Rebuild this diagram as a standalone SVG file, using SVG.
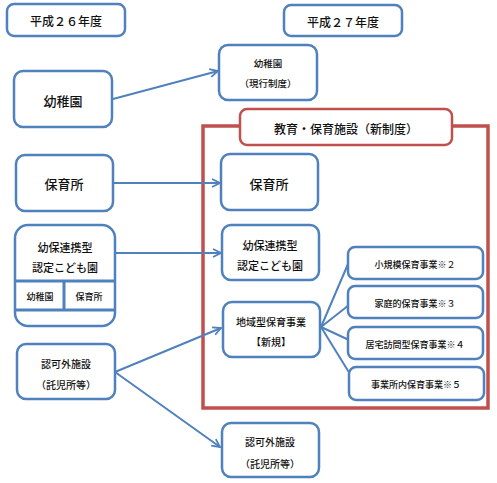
<svg xmlns="http://www.w3.org/2000/svg" width="497" height="483" viewBox="0 0 497 483">
<style>
.b{fill:#fff;stroke:#4F81BD;stroke-width:2.5}
.r{fill:none;stroke:#C0504D;stroke-width:3.5}
.rh{fill:#fff;stroke:#C0504D;stroke-width:2.5}
.c{fill:none;stroke:#4F81BD;stroke-width:2}
text{font-family:"Noto Sans CJK JP","Noto Sans",sans-serif;font-weight:500;fill:#111;text-anchor:middle;dominant-baseline:central}
.t12{font-size:12px}
.t13{font-size:13px}
.t11{font-size:11px}
.t10{font-size:10px}
.t9{font-size:9px}
.t95{font-size:9.5px}
</style>
<defs>
<marker id="a" viewBox="0 0 10 10" refX="9" refY="5" markerWidth="10" markerHeight="10" markerUnits="userSpaceOnUse" orient="auto">
<path d="M1,1 L9,5 L1,9" fill="none" stroke="#4F81BD" stroke-width="1.8"/>
</marker>
</defs>
<rect width="497" height="483" fill="#fff"/>
<rect x="203" y="126" width="285" height="282" class="r"/>
<g id="connectors">
<line x1="113" y1="99" x2="218" y2="71" class="c" marker-end="url(#a)"/>
<line x1="113" y1="183" x2="220" y2="183" class="c" marker-end="url(#a)"/>
<line x1="115" y1="253" x2="221" y2="253" class="c" marker-end="url(#a)"/>
<line x1="115" y1="372" x2="221" y2="328" class="c" marker-end="url(#a)"/>
<line x1="115" y1="372" x2="220" y2="447" class="c" marker-end="url(#a)"/>
<line x1="321" y1="327" x2="348" y2="264" class="c"/>
<line x1="321" y1="327" x2="349" y2="305" class="c"/>
<line x1="321" y1="327" x2="349" y2="340" class="c"/>
<line x1="321" y1="327" x2="350" y2="374" class="c"/>
</g>
<g id="h26"><rect x="7" y="4" width="118" height="32" rx="7" class="b"/><text x="66" y="20" class="t12">平成２６年度</text></g>
<g id="h27"><rect x="284" y="5" width="118" height="31" rx="7" class="b"/><text x="343" y="21" class="t12">平成２７年度</text></g>
<g id="youchien-old"><rect x="14" y="71" width="98" height="56" rx="9" class="b"/><text x="63" y="100" class="t13">幼稚園</text></g>
<g id="youchien-new"><rect x="219" y="45" width="98" height="55" rx="9" class="b"/><text x="268" y="63" class="t95">幼稚園</text><text x="268" y="83" class="t95">（現行制度）</text></g>
<g id="kyouiku"><rect x="240" y="109" width="212" height="36" rx="7" class="rh"/><text x="346" y="128" class="t12">教育・保育施設（新制度）</text></g>
<g id="hoikusho-old"><rect x="16" y="155" width="97" height="56" rx="9" class="b"/><text x="64" y="183" class="t13">保育所</text></g>
<g id="hoikusho-new"><rect x="221" y="154" width="97" height="56" rx="9" class="b"/><text x="269" y="183" class="t13">保育所</text></g>
<g id="nintei-old"><rect x="15" y="225" width="100" height="101" rx="13" class="b"/>
<line x1="15" y1="281" x2="115" y2="281" stroke="#4F81BD" stroke-width="3"/>
<line x1="15" y1="310" x2="115" y2="310" stroke="#4F81BD" stroke-width="3"/>
<line x1="64" y1="281" x2="64" y2="310" stroke="#4F81BD" stroke-width="3"/>
<text x="65" y="247" class="t11">幼保連携型</text><text x="65" y="267" class="t11">認定こども園</text>
<text x="40" y="296" class="t9">幼稚園</text><text x="89" y="296" class="t9">保育所</text></g>
<g id="nintei-new"><rect x="222" y="225" width="97" height="55" rx="9" class="b"/><text x="270" y="245" class="t11">幼保連携型</text><text x="270" y="265" class="t11">認定こども園</text></g>
<g id="chiiki"><rect x="223" y="302" width="97" height="55" rx="9" class="b"/><text x="271" y="321" class="t10">地域型保育事業</text><text x="271" y="341" class="t10">【新規】</text></g>
<g id="s1"><rect x="348" y="247" width="135" height="32" rx="7" class="b"/><text x="415" y="264" class="t9">小規模保育事業※２</text></g>
<g id="s2"><rect x="348" y="286" width="135" height="32" rx="7" class="b"/><text x="415" y="303" class="t9">家庭的保育事業※３</text></g>
<g id="s3"><rect x="348" y="327" width="135" height="32" rx="7" class="b"/><text x="415" y="344" class="t9">居宅訪問型保育事業※４</text></g>
<g id="s4"><rect x="349" y="367" width="135" height="33" rx="7" class="b"/><text x="416" y="384" class="t9">事業所内保育事業※５</text></g>
<g id="ninkagai-old"><rect x="17" y="344" width="98" height="55" rx="9" class="b"/><text x="66" y="363" class="t10">認可外施設</text><text x="66" y="384" class="t10">（託児所等）</text></g>
<g id="ninkagai-new"><rect x="222" y="423" width="97" height="54" rx="9" class="b"/><text x="270" y="441" class="t10">認可外施設</text><text x="270" y="463" class="t10">（託児所等）</text></g>
</svg>
